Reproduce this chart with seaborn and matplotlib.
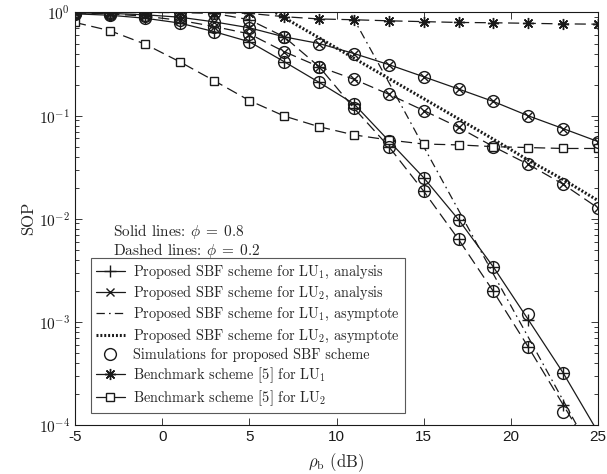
import numpy as np
import pandas as pd
import matplotlib.pyplot as plt
import seaborn as sns
from matplotlib.lines import Line2D

# SNR grid (dB)
rho = [-5, -3, -1, 1, 3, 5, 7, 9, 11, 13, 15, 17, 19, 21, 23, 25]

# proposed SBF scheme, analysis (phi = 0.8 solid, phi = 0.2 dashed)
lu1_ana_08 = [0.97, 0.94, 0.88, 0.79, 0.65, 0.52, 0.333, 0.21, 0.13, 0.057,
              0.025, 0.0098, 0.0034, 1.05e-3, 3.2e-4, 8.5e-5]
lu1_ana_02 = [1.0, 1.0, 1.0, 1.0, 0.98, 0.85, 0.58, 0.298, 0.118, 0.050,
              0.0185, 0.0063, 0.00197, 5.7e-4, 1.57e-4, 4.3e-5]
lu2_ana_08 = [0.99, 0.98, 0.95, 0.90, 0.81, 0.71, 0.58, 0.50, 0.40, 0.312,
              0.238, 0.181, 0.137, 0.0995, 0.0748, 0.056]
lu2_ana_02 = [0.99, 0.97, 0.92, 0.84, 0.73, 0.62, 0.417, 0.298, 0.225, 0.161,
              0.112, 0.077, 0.050, 0.0337, 0.0216, 0.0127]

# simulations
lu1_sim_08 = [0.97, 0.94, 0.88, 0.79, 0.65, 0.52, 0.333, 0.21, 0.13, 0.057,
              0.025, 0.0098, 0.0034, 1.2e-3, 3.2e-4, np.nan]
lu1_sim_02 = [1.0, 1.0, 1.0, 1.0, 0.98, 0.85, 0.58, 0.298, 0.118, 0.050,
              0.0185, 0.0063, 0.00197, 5.7e-4, 1.35e-4, np.nan]
lu2_sim_08 = lu2_ana_08
lu2_sim_02 = lu2_ana_02

# asymptotes
asym1_rho = [9, 11, 13, 15, 17, 19, 21, 23, 25]
asym1_lu1 = [3.5, 0.86, 0.21, 0.050, 0.0121, 0.0029, 7.1e-4, 1.73e-4, 4.2e-5]
asym2_rho = [5, 7, 9, 11, 13, 15, 17, 19, 21, 23, 25]
asym2_lu2 = [1.4, 0.89, 0.567, 0.36, 0.229, 0.146, 0.093, 0.059, 0.037, 0.024, 0.015]

# benchmark scheme [5]
bench_lu1 = [1.0, 1.0, 1.0, 1.0, 0.995, 0.98, 0.91, 0.865, 0.85, 0.83,
             0.815, 0.80, 0.795, 0.785, 0.775, 0.77]
bench_lu2 = [0.80, 0.666, 0.495, 0.333, 0.217, 0.14, 0.099, 0.078, 0.065, 0.058,
             0.053, 0.052, 0.050, 0.049, 0.048, 0.048]

sns.set_theme(style="ticks")
plt.rcParams['font.family'] = ['Liberation Sans', 'DejaVu Sans']
plt.rcParams['mathtext.fontset'] = 'cm'
plt.rcParams['lines.scale_dashes'] = False
SERIF = ['cmr10', 'DejaVu Serif']

DASH = (8, 4)
DASHDOT = (6, 3, 1.2, 3)
DOT = (1.4, 1.4)

fig = plt.figure(figsize=(6.07, 4.74), dpi=100)
ax = fig.add_axes([0.1236, 0.1034, 0.8616, 0.8703])

lw = 0.9
mk = dict(markeredgecolor='k', markeredgewidth=1)


def draw(x, y, dashes=None, **kw):
    sns.lineplot(x=x, y=y, ax=ax, color='k', linewidth=kw.pop('lw', lw), **kw)
    line = ax.lines[-1]
    if dashes is not None:
        line.set_dashes(dashes)
    return line


draw(rho, lu1_ana_08, marker='+', markersize=8, **mk)
draw(rho, lu1_ana_02, dashes=DASH, marker='+', markersize=8, **mk)
draw(rho, lu2_ana_08, marker='x', markersize=6, **mk)
draw(rho, lu2_ana_02, dashes=DASH, marker='x', markersize=6, **mk)
draw(asym1_rho, asym1_lu1, dashes=DASHDOT)
draw(asym2_rho, asym2_lu2, dashes=DOT, lw=2.2)
draw(rho, bench_lu1, dashes=DASH, marker=(8, 2, 0), markersize=8, **mk)
draw(rho, bench_lu2, dashes=DASH, marker='s', markersize=6, markerfacecolor='white', **mk)

for ys in [lu1_sim_08, lu1_sim_02, lu2_sim_08, lu2_sim_02]:
    sns.lineplot(x=rho, y=ys, ax=ax, color='k', linestyle='', marker='o',
                 markersize=8.5, markerfacecolor='none', **mk)

ax.set_yscale('log')
ax.set_xlim(-5, 25)
ax.set_ylim(1e-4, 1)
ax.set_xticks([-5, 0, 5, 10, 15, 20, 25])
ax.set_xticklabels(['-5', '0', '5', '10', '15', '20', '25'])
ax.set_yticks([1e-4, 1e-3, 1e-2, 1e-1, 1])
ax.set_yticklabels([r'$\mathsf{10^{-4}}$', r'$\mathsf{10^{-3}}$', r'$\mathsf{10^{-2}}$',
                    r'$\mathsf{10^{-1}}$', r'$\mathsf{10^{0}}$'])
ax.tick_params(which='both', direction='in', top=True, right=True,
               labelsize=11, colors='k', width=0.6)
ax.tick_params(which='major', length=5)
ax.tick_params(which='minor', length=3)
for s in ax.spines.values():
    s.set_linewidth(0.8)
    s.set_color('k')

ax.set_xlabel(r'$\rho_{\rm b}$ (dB)', fontsize=12, family=SERIF, labelpad=5)
ax.set_ylabel('SOP', fontsize=12, family=SERIF, labelpad=2)

ax.text(0.073, 0.470, r'Solid lines: $\phi\;=\;0.8$', transform=ax.transAxes,
        fontsize=11, family=SERIF, va='center')
ax.text(0.073, 0.422, r'Dashed lines: $\phi\;=\;0.2$', transform=ax.transAxes,
        fontsize=11, family=SERIF, va='center')

handles = [
    Line2D([], [], color='k', lw=lw, marker='+', markersize=8, **mk),
    Line2D([], [], color='k', lw=lw, marker='x', markersize=6, **mk),
    Line2D([], [], color='k', lw=lw, dashes=DASHDOT),
    Line2D([], [], color='k', lw=2.2, dashes=DOT),
    Line2D([], [], color='k', lw=0, marker='o', markersize=8.5,
           markerfacecolor='none', **mk),
    Line2D([], [], color='k', lw=lw, marker=(8, 2, 0), markersize=8, **mk),
    Line2D([], [], color='k', lw=lw, marker='s', markersize=6,
           markerfacecolor='white', **mk),
]
labels = [
    r'Proposed SBF scheme for LU$_1$, analysis',
    r'Proposed SBF scheme for LU$_2$, analysis',
    r'Proposed SBF scheme for LU$_1$, asymptote',
    r'Proposed SBF scheme for LU$_2$, asymptote',
    'Simulations for proposed SBF scheme',
    r'Benchmark scheme [5] for LU$_1$',
    r'Benchmark scheme [5] for LU$_2$',
]
leg = ax.legend(handles, labels, loc='upper left', bbox_to_anchor=(0.0306, 0.405),
                borderaxespad=0, fancybox=False, framealpha=1, edgecolor='0.35',
                prop={'family': SERIF, 'size': 10.3}, handlelength=2.0,
                handletextpad=0.6, labelspacing=0.22, borderpad=0.35)
leg.get_frame().set_linewidth(0.8)

fig.savefig('out.png', dpi=100)
